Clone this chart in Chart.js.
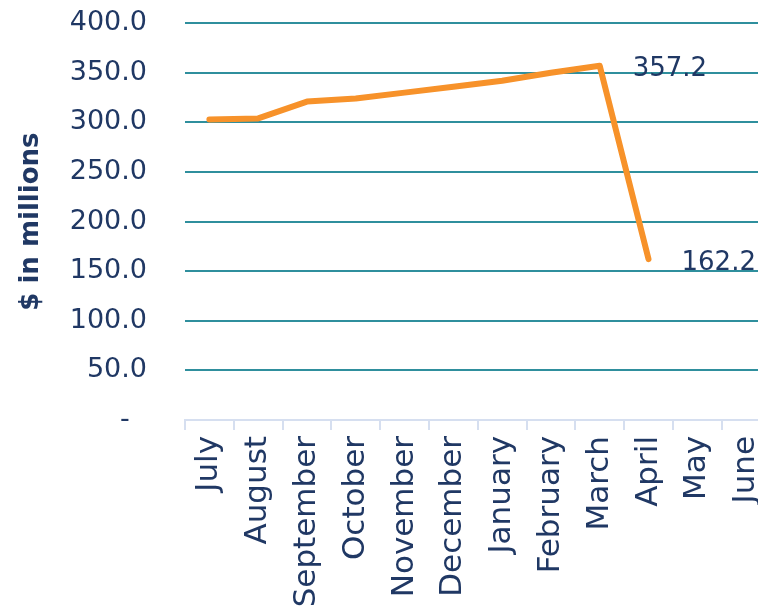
<!DOCTYPE html>
<html><head><meta charset="utf-8">
<script src="https://cdn.jsdelivr.net/npm/chart.js@4"></script>
<style>
html,body{margin:0;padding:0;background:#fff;overflow:hidden;width:758px;height:614px;}
#wrap{width:790px;height:614px;}
</style></head><body>
<div id="wrap"><canvas id="c" width="790" height="614"></canvas></div>
<script>
const months = ["July","August","September","October","November","December","January","February","March","April","May","June"];
const revenue = [303, 304, 321, 324, 330, 336, 342, 350, 357.2, 162.2, null, null];
const labeledMonths = ["March","April"];
const yTitle = "$ in millions";

const navy = "#203864";
const FONT = "DejaVu Sans";

const pointLabels = {
  id: "pointLabels",
  afterDatasetsDraw(chart) {
    const ctx = chart.ctx;
    const meta = chart.getDatasetMeta(0);
    ctx.save();
    ctx.font = "26px '" + FONT + "'";
    ctx.fillStyle = navy;
    ctx.textAlign = "left";
    ctx.textBaseline = "middle";
    labeledMonths.forEach(m => {
      const i = months.indexOf(m);
      const p = meta.data[i];
      ctx.fillText(revenue[i].toFixed(1), p.x + 33, p.y + 4);
    });
    ctx.restore();
  }
};

new Chart(document.getElementById("c"), {
  type: "line",
  data: {
    labels: months,
    datasets: [{
      data: revenue,
      borderColor: "#F7922A",
      borderWidth: 6,
      pointRadius: 0,
      tension: 0,
      borderCapStyle: "round",
      borderJoinStyle: "round",
      spanGaps: false
    }]
  },
  options: {
    responsive: false,
    animation: false,
    layout: { padding: { top: 0, right: 17, left: 16, bottom: 0 } },
    plugins: { legend: { display: false }, tooltip: { enabled: false } },
    scales: {
      x: {
        offset: true,
        afterFit(s) { s.height = 194; },
        grid: { offset: true, drawOnChartArea: false, drawTicks: true, tickLength: 10, color: "#D6DFF0", lineWidth: 2 },
        border: { color: "#D6DFF0", width: 2 },
        ticks: { color: navy, font: { family: FONT, size: 31 }, minRotation: 90, maxRotation: 90, autoSkip: false, padding: 6 }
      },
      y: {
        min: 0, max: 400,
        afterFit(s) { s.width = 169; },
        grid: { color: (c) => c.tick.value === 0 ? "rgba(0,0,0,0)" : "#2F8F9D", lineWidth: 2, drawTicks: true, tickLength: 31, tickColor: "rgba(0,0,0,0)" },
        border: { display: false },
        ticks: { stepSize: 50, color: navy, font: { family: FONT, size: 27 }, padding: 7,
          callback: (v) => v === 0 ? "-  " : v.toFixed(1) },
        title: { display: true, text: yTitle, color: navy, font: { family: FONT, size: 26, weight: "bold" }, padding: 0 }
      }
    }
  },
  plugins: [pointLabels]
});
</script></body></html>
